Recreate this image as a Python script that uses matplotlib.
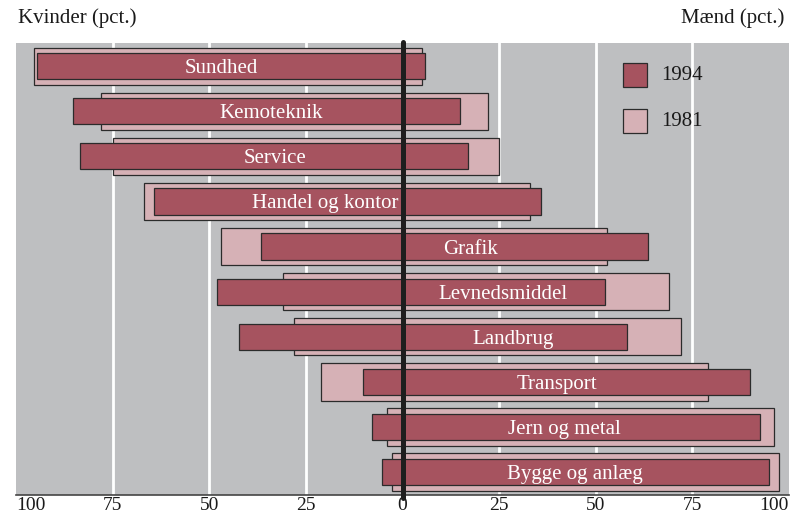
import matplotlib
matplotlib.use("Agg")
import matplotlib.pyplot as plt
from matplotlib.patches import Rectangle

categories = ["Sundhed", "Kemoteknik", "Service", "Handel og kontor", "Grafik",
              "Levnedsmiddel", "Landbrug", "Transport", "Jern og metal", "Bygge og anlæg"]
women_1981 = [95.3, 78.0, 75.0, 67.0, 47.0, 31.0, 28.0, 21.0, 4.0, 2.8]
men_1981   = [5.0, 22.0, 25.0, 33.0, 53.0, 69.0, 72.0, 79.0, 96.2, 97.4]
women_1994 = [94.6, 85.3, 83.5, 64.4, 36.7, 48.0, 42.2, 10.3, 7.9, 5.4]
men_1994   = [5.8, 14.9, 16.9, 35.9, 63.6, 52.3, 58.1, 90.0, 92.4, 94.8]
label_x    = [-47, -34, -33, -20, 17.6, 26, 28.5, 40, 42, 44.5]
tick_vals  = [-100, -75, -50, -25, 0, 25, 50, 75, 100]
tick_labels = ["100", "75", "50", "25", "0", "25", "50", "75", "100"]

DARK = "#A6535F"
LIGHT = "#D6B1B6"
BG = "#BEBFC1"
EDGE = "#2b2b2b"
FONT = "Liberation Serif"

W, H = 807, 516
fig = plt.figure(figsize=(W / 100, H / 100), dpi=100)
ax = fig.add_axes([16 / W, (H - 495) / H, (789 - 16) / W, (495 - 43) / H])
ax.set_facecolor(BG)

ax.set_xlim(-100, 100)
ax.set_ylim(9.51, -0.515)

for g in [-75, -50, -25, 25, 50, 75]:
    ax.axvline(g, color="white", lw=2, zorder=1)

ys = list(range(len(categories)))
ax.barh(ys, [w + m for w, m in zip(women_1981, men_1981)], left=[-w for w in women_1981],
        height=0.83, color=LIGHT, edgecolor=EDGE, linewidth=0.9, zorder=2)
ax.barh(ys, [w + m for w, m in zip(women_1994, men_1994)], left=[-w for w in women_1994],
        height=0.58, color=DARK, edgecolor=EDGE, linewidth=0.9, zorder=3)

ax.axvline(0, ymin=-0.006, ymax=1.003, color="#1e1e1e", lw=3.6, zorder=4,
           clip_on=False, solid_capstyle="round")

for y, name, lx in zip(ys, categories, label_x):
    ax.text(lx, y, name, ha="center", va="center_baseline", color="white",
            fontsize=15, family=FONT, zorder=5)

for s in ["top", "left", "right"]:
    ax.spines[s].set_visible(False)
ax.spines["bottom"].set_color("#444444")
ax.spines["bottom"].set_linewidth(1.2)
ax.set_yticks([])
ax.set_xticks(tick_vals)
ax.set_xticklabels(tick_labels, fontsize=14, family=FONT, color="#1a1a1a")
ax.tick_params(axis="x", length=0, pad=1.5)
tl = ax.get_xticklabels()
tl[0].set_ha("left")
tl[-1].set_ha("right")

fig.text(18 / W, 1 - 18 / H, "Kvinder (pct.)", ha="left", va="center",
         fontsize=15, family=FONT, color="#1a1a1a")
fig.text(784 / W, 1 - 18 / H, "Mænd (pct.)", ha="right", va="center",
         fontsize=15, family=FONT, color="#1a1a1a")

for (top, col, lab) in [(63, DARK, "1994"), (109, LIGHT, "1981")]:
    fig.patches.append(Rectangle((623 / W, 1 - (top + 24) / H), 24 / W, 24 / H,
                                 transform=fig.transFigure, facecolor=col,
                                 edgecolor=EDGE, linewidth=0.9, zorder=6))
    fig.text(661 / W, 1 - (top + 12) / H, lab, ha="left", va="center",
             fontsize=15, family=FONT, color="#1a1a1a", zorder=7)

fig.savefig("out.png", dpi=100, facecolor="white")
